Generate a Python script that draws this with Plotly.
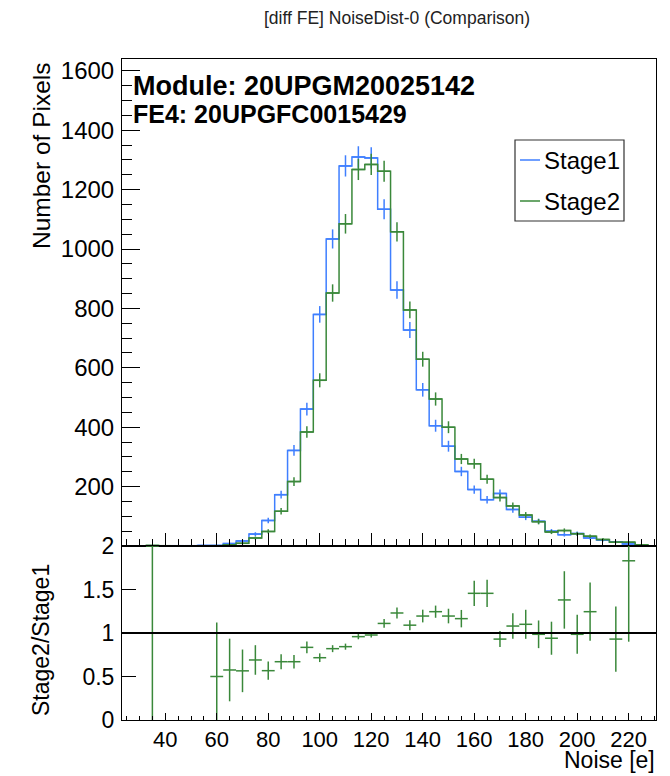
import numpy as np
import plotly.graph_objects as go

# ---------------- data ----------------
bin_centers = [25, 30, 35, 40, 45, 50, 55, 60, 65, 70, 75, 80, 85, 90, 95, 100,
               105, 110, 115, 120, 125, 130, 135, 140, 145, 150, 155, 160, 165,
               170, 175, 180, 185, 190, 195, 200, 205, 210, 215, 220, 225, 230]
stage1 = [0, 0, 1, 0, 1, 1, 2, 2, 8, 17, 40, 86, 173, 322, 461, 780,
          1034, 1280, 1310, 1307, 1134, 862, 727, 526, 405, 336, 251, 190, 156,
          177, 123, 97, 83, 50, 38, 42, 27, 20, 14, 7, 0, 0]
stage2 = [0, 0, 2, 1, 0, 0, 0, 1, 4, 9, 27, 49, 117, 217, 384, 558,
          852, 1085, 1268, 1285, 1262, 1058, 795, 629, 495, 400, 293, 277, 225,
          163, 135, 104, 82, 47, 52, 41, 33, 22, 13, 13, 4, 0]

ratio_x = [35, 60, 65, 70, 75, 80, 85, 90, 95, 100, 105, 110, 115, 120, 125, 130,
           135, 140, 145, 150, 155, 160, 165, 170, 175, 180, 185, 190, 195, 200,
           205, 215, 220]
ratio_y = [2.0, 0.50, 0.575, 0.565, 0.69, 0.567, 0.67, 0.67, 0.835, 0.716, 0.82,
           0.843, 0.958, 0.977, 1.11, 1.23, 1.09, 1.195, 1.245, 1.195, 1.165, 1.456,
           1.456, 0.93, 1.08, 1.10, 0.985, 0.94, 1.38, 0.985, 1.245, 0.93, 1.83]
ratio_err = [2.45, 0.62, 0.36, 0.245, 0.17, 0.105, 0.086, 0.077, 0.067, 0.05, 0.04,
             0.035, 0.03, 0.03, 0.05, 0.063, 0.057, 0.073, 0.07, 0.084, 0.1, 0.146,
             0.157, 0.092, 0.146, 0.167, 0.159, 0.19, 0.33, 0.224, 0.335, 0.375, 0.93]

main_yticks = [0, 200, 400, 600, 800, 1000, 1200, 1400, 1600]
ratio_yticks = [0, 0.5, 1, 1.5, 2]
x_ticks = [40, 60, 80, 100, 120, 140, 160, 180, 200, 220]

title_text = "[diff FE] NoiseDist-0 (Comparison)"
module_text = "Module: 20UPGM20025142"
fe_text = "FE4: 20UPGFC0015429"
series_names = ["Stage1", "Stage2"]

# ---------------- style ----------------
FONT = "Liberation Sans, Arial, Helvetica, sans-serif"
BLUE = "#3f7fff"
GREEN = "#3a883a"
OFF = 8                      # page body margin
W, H = 670 - OFF, 776 - OFF
ML, MR, MT, MB = 122 - OFF, 14, 59 - OFF, 56
PW, PH = W - ML - MR, H - MT - MB
split = (720 - 546) / PH
XR = [23.2, 230.6]


def px_x(px):   # page pixel -> paper
    return (px - OFF - ML) / PW


def px_y(py):
    return (H - MB - (py - OFF)) / PH


fig = go.Figure()

for vals, col, name in [(stage1, BLUE, series_names[0]), (stage2, GREEN, series_names[1])]:
    fig.add_trace(go.Scatter(x=bin_centers, y=vals, mode="lines", line_shape="hvh",
                             line=dict(color=col, width=1.5), name=name,
                             showlegend=False, xaxis="x", yaxis="y"))
    nz = [i for i, v in enumerate(vals) if v > 0]
    fig.add_trace(go.Scatter(
        x=[bin_centers[i] for i in nz], y=[vals[i] for i in nz], mode="markers",
        marker=dict(size=0.1, color=col), showlegend=False, xaxis="x", yaxis="y",
        error_y=dict(type="data", array=list(np.sqrt([vals[i] for i in nz])),
                     width=0, thickness=1.5, color=col),
        error_x=dict(type="constant", value=2.5, width=0, thickness=1.5, color=col)))

fig.add_trace(go.Scatter(
    x=ratio_x, y=ratio_y, mode="markers", marker=dict(size=0.1, color=GREEN),
    showlegend=False, xaxis="x2", yaxis="y2",
    error_y=dict(type="data", array=ratio_err, width=0, thickness=1.5, color=GREEN),
    error_x=dict(type="constant", value=2.5, width=0, thickness=1.5, color=GREEN)))

axis_common = dict(showline=True, mirror=True, linecolor="black", linewidth=1,
                   showgrid=False, zeroline=False, ticks="inside", tickcolor="black")

fig.update_layout(
    width=W, height=H, margin=dict(l=ML, r=MR, t=MT, b=MB),
    paper_bgcolor="white", plot_bgcolor="white", showlegend=False,
    xaxis=dict(axis_common, domain=[0, 1], range=XR, anchor="y",
               showticklabels=False, tickmode="array", tickvals=x_ticks,
               ticklen=13, minor=dict(ticks="inside", dtick=5, tick0=0, ticklen=7,
                                      tickcolor="black")),
    yaxis=dict(axis_common, domain=[split, 1], range=[0, 1640], anchor="x",
               tickmode="array", tickvals=main_yticks,
               ticktext=[""] + [str(v) for v in main_yticks[1:]],
               tickfont=dict(family=FONT, size=24, color="black"),
               ticklen=18, ticklabelstandoff=2,
               minor=dict(ticks="inside", dtick=50, tick0=0, ticklen=10,
                          tickcolor="black")),
    xaxis2=dict(axis_common, domain=[0, 1], range=XR, anchor="y2",
                tickmode="array", tickvals=x_ticks, ticklen=7,
                tickfont=dict(family=FONT, size=22, color="black"),
                minor=dict(ticks="inside", dtick=5, tick0=0, ticklen=4,
                           tickcolor="black")),
    yaxis2=dict(axis_common, domain=[0, split], range=[0, 2], anchor="x2",
                tickmode="array", tickvals=ratio_yticks,
                ticktext=["0", "0.5", "1", "1.5", "2"], ticklen=14,
                tickfont=dict(family=FONT, size=23, color="black"),
                ticklabelstandoff=2),
)

fig.add_shape(type="line", xref="paper", yref="y2", x0=0, x1=1, y0=1, y1=1,
              line=dict(color="black", width=2))

# legend (drawn box)
fig.add_shape(type="rect", xref="paper", yref="paper",
              x0=px_x(515), x1=px_x(624), y0=px_y(221), y1=px_y(140),
              line=dict(color="#333", width=1.2), fillcolor="white")
for name, col, ly in [(series_names[0], BLUE, 160), (series_names[1], GREEN, 201)]:
    fig.add_shape(type="line", xref="paper", yref="paper",
                  x0=px_x(520), x1=px_x(540), y0=px_y(ly), y1=px_y(ly),
                  line=dict(color=col, width=1.5))
    fig.add_annotation(text=name, xref="paper", yref="paper", x=px_x(542),
                       y=px_y(ly), xanchor="left", yanchor="middle", showarrow=False,
                       font=dict(family=FONT, size=24, color="black"))

fig.add_annotation(text=title_text, xref="paper", yref="paper", x=px_x(397),
                   y=px_y(18), xanchor="center", yanchor="middle", showarrow=False,
                   font=dict(family=FONT, size=17.5, color="#222"))
fig.add_annotation(text="<b>" + module_text + "</b>", xref="paper", yref="paper",
                   x=px_x(131), y=px_y(86), xanchor="left", yanchor="middle",
                   showarrow=False, font=dict(family=FONT, size=27, color="black"))
fig.add_annotation(text="<b>" + fe_text + "</b>", xref="paper", yref="paper",
                   x=px_x(131), y=px_y(114), xanchor="left", yanchor="middle",
                   showarrow=False, font=dict(family=FONT, size=25, color="black"))
fig.add_annotation(text="Number of Pixels", xref="paper", yref="paper",
                   x=px_x(41), y=px_y(156), textangle=-90, xanchor="center",
                   yanchor="middle", showarrow=False,
                   font=dict(family=FONT, size=24.5, color="black"))
fig.add_annotation(text="Stage2/Stage1", xref="paper", yref="paper",
                   x=px_x(41), y=px_y(640), textangle=-90, xanchor="center",
                   yanchor="middle", showarrow=False,
                   font=dict(family=FONT, size=23, color="black"))
fig.add_annotation(text="Noise [e]", xref="paper", yref="paper",
                   x=px_x(657), y=px_y(760), xanchor="right", yanchor="middle",
                   showarrow=False, font=dict(family=FONT, size=23, color="black"))

fig.write_html("out.html")
